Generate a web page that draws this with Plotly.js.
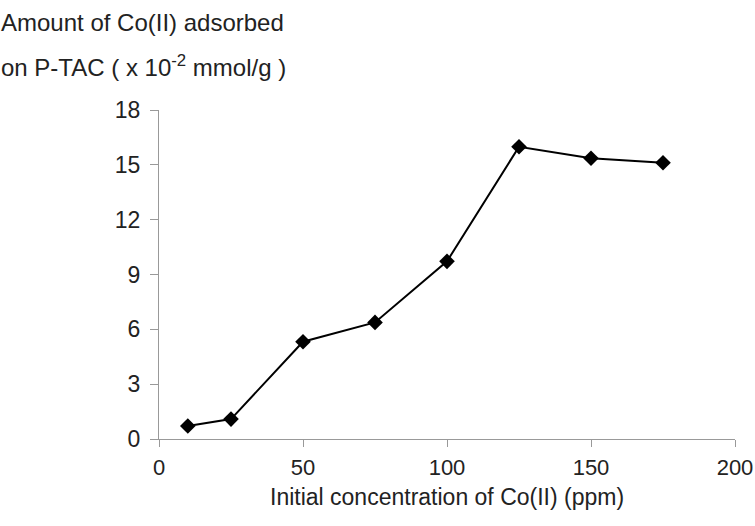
<!DOCTYPE html>
<html>
<head>
<meta charset="utf-8">
<script src="https://cdn.plot.ly/plotly-3.0.1.min.js"></script>
<style>html,body{margin:0;padding:0;background:#fff;}#chart{width:755px;height:526px;}</style>
</head>
<body>
<div id="chart"></div>
<script>
const concentration = [10, 25, 50, 75, 100, 125, 150, 175];
const adsorbed = [0.71, 1.09, 5.32, 6.38, 9.72, 15.99, 15.36, 15.11];
const xTicks = [0, 50, 100, 150, 200];
const yTicks = [0, 3, 6, 9, 12, 15, 18];

const font = {family: 'Liberation Sans, Arial, sans-serif', color: '#222'};

Plotly.newPlot('chart', [{
  x: concentration,
  y: adsorbed,
  type: 'scatter',
  mode: 'lines+markers',
  line: {color: '#000', width: 2},
  marker: {symbol: 'diamond', size: 12, color: '#000'},
  cliponaxis: false,
  showlegend: false
}], {
  width: 755, height: 526,
  margin: {l: 159, r: 20, t: 110, b: 87},
  paper_bgcolor: '#fff', plot_bgcolor: '#fff',
  font: Object.assign({size: 23}, font),
  xaxis: {
    range: [0, 200], tickvals: xTicks, ticktext: xTicks.map(String),
    showgrid: false, zeroline: false, showline: true, linecolor: '#999', linewidth: 1,
    ticks: 'outside', ticklen: 7, tickcolor: '#999', ticklabelstandoff: 2,
    ticklabeloverflow: 'allow',
    tickfont: Object.assign({size: 22}, font)
  },
  yaxis: {
    range: [0, 18], tickvals: yTicks, ticktext: yTicks.map(String),
    showgrid: false, zeroline: false, showline: true, linecolor: '#999', linewidth: 1,
    ticks: 'outside', ticklen: 8, tickcolor: '#999', ticklabelstandoff: 5,
    ticklabeloverflow: 'allow',
    tickfont: Object.assign({size: 23}, font)
  },
  annotations: [
    {text: 'Amount of Co(II) adsorbed', xref: 'paper', yref: 'paper', x: -0.277, y: 1.265,
     xanchor: 'left', yanchor: 'middle', showarrow: false, font: Object.assign({size: 24}, font)},
    {text: 'on P-TAC ( x 10<sup>-2</sup> mmol/g )', xref: 'paper', yref: 'paper', x: -0.277, y: 1.135,
     xanchor: 'left', yanchor: 'middle', showarrow: false, font: Object.assign({size: 24}, font)},
    {text: 'Initial concentration of Co(II) (ppm)', xref: 'paper', yref: 'paper', x: 0.5, y: -0.177,
     xanchor: 'center', yanchor: 'middle', showarrow: false, font: Object.assign({size: 23}, font)}
  ]
}, {staticPlot: true});
</script>
</body>
</html>
